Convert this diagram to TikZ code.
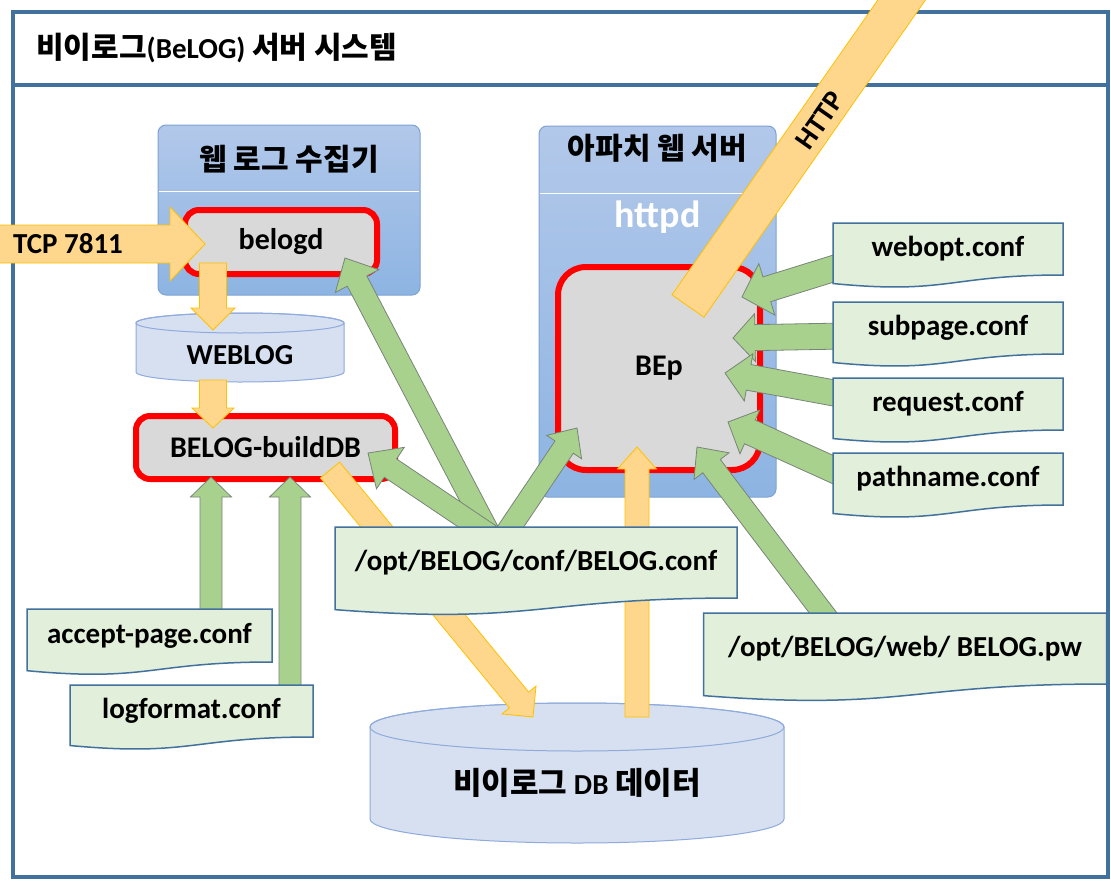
\documentclass[tikz,border=0pt]{standalone}
\usepackage{fontspec}
\setmainfont{Carlito}
\newfontfamily\kr{Noto Sans CJK KR}
\usetikzlibrary{calc,positioning}
\definecolor{frameblue}{RGB}{65,113,156}
\definecolor{paneltop}{RGB}{178,200,234}
\definecolor{panelbot}{RGB}{141,180,226}
\definecolor{paneledge}{RGB}{125,163,212}
\definecolor{boxgray}{RGB}{217,217,217}
\definecolor{drumfill}{RGB}{214,224,240}
\definecolor{drumedge}{RGB}{143,170,220}
\definecolor{conffill}{RGB}{226,239,218}
\definecolor{greenfill}{RGB}{169,209,142}
\definecolor{greenedge}{RGB}{120,132,120}
\definecolor{orangefill}{RGB}{255,215,140}
\definecolor{orangeedge}{RGB}{255,192,0}

\pgfdeclarelayer{bg}
\pgfdeclarelayer{flow}
\pgfdeclarelayer{docs}
\pgfsetlayers{bg,flow,docs,main}

\newcommand\krbig{\kr\fontsize{30}{32}\selectfont}

\tikzset{
  outerframe/.style={draw=frameblue, line width=4pt},
  panel/.style={rounded corners=8pt, draw=paneledge, line width=1pt, top color=paneltop, bottom color=panelbot, outer sep=0pt},
  proc/.style={draw=red, line width=6pt, fill=boxgray, rounded corners=14pt, outer sep=0pt, font=\bfseries\fontsize{30}{32}\selectfont},
  plaintext/.style={font=\bfseries\fontsize{29}{31}\selectfont, outer sep=0pt},
  conf/.style={minimum height=52pt, outer sep=0pt, font=\bfseries\fontsize{29}{31}\selectfont},
  confline/.style={draw=frameblue, line width=1.5pt, fill=conffill},
  drum/.style={draw=drumedge, line width=1pt, fill=drumfill},
  greenflow/.style={fill=greenfill, draw=greenedge, line width=0.8pt},
  orangeflow/.style={fill=orangefill, draw=orangeedge, line width=0.8pt}
}

% block arrow: style, from, to, half body, half head, head length
\newcommand\fatarrow[6]{%
  \coordinate (fa-base) at ($(#3)!#6!(#2)$);
  \path[#1] ($(#2)!#4!90:(#3)$) -- ($(fa-base)!#4!90:(#3)$) -- ($(fa-base)!#5!90:(#3)$) -- (#3)
    -- ($(fa-base)!#5!-90:(#3)$) -- ($(fa-base)!#4!-90:(#3)$) -- ($(#2)!#4!-90:(#3)$) -- cycle;
}
\newcommand\fatbar[4]{%
  \path[#1] ($(#2)!#4!90:(#3)$) -- ($(#3)!#4!-90:(#2)$) -- ($(#3)!#4!90:(#2)$) -- ($(#2)!#4!-90:(#3)$) -- cycle;
}
% cx, top centre y, bottom centre y, rx, ry
\newcommand\drumshape[5]{%
  \path[drum] (#1-#4,#2) -- (#1-#4,#3) arc[start angle=180, end angle=0, x radius=#4, y radius=#5]
    -- (#1+#4,#2) arc[start angle=0, end angle=-180, x radius=#4, y radius=#5] -- cycle;
  \draw[drum, fill=none] (#1,#2) ellipse[x radius=#4, y radius=#5];
}

\begin{document}
\begin{tikzpicture}[x=1pt,y=-1pt]
\useasboundingbox (0,0) rectangle (1111,889);

\begin{pgfonlayer}{bg}
  \fill[white] (0,0) rectangle (1111,889);
  \draw[outerframe] (13,12) rectangle (1108,877);
  \draw[outerframe] (13,85) -- (1108,85);
  \node[panel, minimum width=262pt, minimum height=170pt] (collector) at (289,210) {};
  \node[panel, minimum width=237pt, minimum height=371pt] (apache) at (657.5,311.5) {};
  \draw[white, line width=1pt] ($(collector.north west)+(1,66)$) -- ($(collector.north east)+(-1,66)$);
  \draw[white, line width=1pt] ($(apache.north west)+(1,67)$) -- ($(apache.north east)+(-1,67)$);
  \node[proc, minimum width=192pt, minimum height=64pt] (belogd) at (281,242) {belogd};
  \node[proc, minimum width=259pt, minimum height=63pt] (builddb) at (265.5,447.5) {BELOG-buildDB};
  \node[proc, minimum width=202pt, minimum height=203pt, rounded corners=28pt] (bep) at (659,368.5) {BEp};
  \drumshape{240}{323}{372}{104}{10}
  \drumshape{577}{727}{819}{207}{24}
\end{pgfonlayer}

\node[plaintext, anchor=west] (title) at (33,48) {{\krbig 비이로그}(BeLOG) {\krbig 서버 시스템}};
\node[plaintext] (collectorhead) at ($(collector.north)+(0,34)$) {\krbig 웹 로그 수집기};
\node[plaintext] (apachehead) at ($(apache.north)+(0,22)$) {\krbig 아파치 웹 서버};
\node[plaintext, text=white, font=\bfseries\fontsize{38}{40}\selectfont] (httpd) at ($(apache.north)+(0,91)$) {httpd};
\node[plaintext] (weblog) at (240,355) {WEBLOG};
\node[plaintext] (db) at (577,783) {{\kr\fontsize{31}{33}\selectfont 비이로그} DB {\kr\fontsize{31}{33}\selectfont 데이터}};
\node[plaintext] (tcp) at (68,244) {TCP 7811};
\node[plaintext, rotate=55] (http) at (820,120) {HTTP};

\node[conf, minimum width=230pt] (webopt) at (948,249) {webopt.conf};
\node[conf, minimum width=230pt] (subpage) at (948,328) {subpage.conf};
\node[conf, minimum width=230pt] (request) at (948,404) {request.conf};
\node[conf, minimum width=230pt] (pathname) at (948,479) {pathname.conf};
\node[conf, minimum width=245pt, minimum height=53pt] (acceptpage) at (149.5,635.5) {accept-page.conf};
\node[conf, minimum width=243pt] (logformat) at (191.5,711) {logformat.conf};
\node[conf, minimum width=402pt, minimum height=71pt] (belogconf) at (536,562.5) {/opt/BELOG/conf/BELOG.conf};
\node[conf, minimum width=403pt, minimum height=71pt] (belogpw) at (905,648.5) {/opt/BELOG/web/ BELOG.pw};

\begin{pgfonlayer}{docs}
  \foreach \n in {webopt,subpage,request,pathname,acceptpage,logformat,belogconf,belogpw}
    \path[confline] (\n.north west) -- (\n.north east) -- (\n.south east)
      .. controls (\n.south) and ($(\n.south)!-0.38!(\n.north)$) .. ($(\n.south west)!-0.164!(\n.north west)$) -- cycle;
\end{pgfonlayer}

\coordinate (tcpin) at (-5,244);
\coordinate (tcptip) at ($(belogd.west)+(20,2)$);
\coordinate (logout) at ($(belogd.south west)+(28,-11)$);
\coordinate (login) at ($(weblog)+(-27,-25)$);
\coordinate (buildin) at ($(weblog)+(-27,25)$);
\coordinate (buildtip) at ($(builddb.north west)+(77,12)$);
\coordinate (dbout) at ($(builddb.south east)+(-65,-9)$);
\coordinate (dbin) at ($(db)+(-44,-66)$);
\coordinate (dbup) at ($(db)+(60,-66)$);
\coordinate (bepin) at ($(bep.south)+(-22,-23)$);
\coordinate (httpin) at ($(bep)+(29,-62.5)$);
\coordinate (web) at (917,-22);

\begin{pgfonlayer}{flow}
  \fatarrow{orangeflow}{tcpin}{tcptip}{19pt}{37pt}{35pt}
  \fatarrow{orangeflow}{logout}{login}{13.5pt}{22pt}{22pt}
  \fatarrow{orangeflow}{buildin}{buildtip}{13.5pt}{21pt}{20pt}
  \fatarrow{orangeflow}{dbout}{dbin}{12.5pt}{22pt}{22pt}
  \fatarrow{orangeflow}{dbup}{bepin}{12pt}{19.5pt}{22pt}
  \fatbar{orangeflow}{httpin}{web}{19.5pt}

  \coordinate (c1) at ($(belogconf.north)+(-46,8)$);
  \coordinate (c2) at ($(belogconf.north)+(-31,8)$);
  \fatarrow{greenflow}{c1}{$(belogd.south east)+(-32,-16)$}{11pt}{24.5pt}{26pt}
  \fatarrow{greenflow}{c1}{$(builddb.east)+(-27,5.5)$}{11pt}{25pt}{27pt}
  \fatarrow{greenflow}{c2}{$(bep.south west)+(19,-42)$}{11pt}{21pt}{23pt}
  \fatarrow{greenflow}{$(belogpw.north)+(-75,9)$}{$(bep.south)+(38,-23)$}{11pt}{22pt}{24pt}
  \fatarrow{greenflow}{$(webopt.west)+(12,16)$}{$(bep.north east)+(-18,30)$}{13pt}{27pt}{26pt}
  \fatarrow{greenflow}{$(subpage.west)+(12,8)$}{$(bep.east)+(-27,-30.5)$}{13pt}{24pt}{22pt}
  \fatarrow{greenflow}{$(request.west)+(12,-9)$}{$(bep.east)+(-35,4.5)$}{13pt}{24pt}{24pt}
  \fatarrow{greenflow}{$(pathname.west)+(12,-4)$}{$(bep.east)+(-32,53.5)$}{13pt}{24pt}{24pt}
  \fatarrow{greenflow}{$(acceptpage.north)+(61.5,6)$}{$(builddb.south west)+(75,-2)$}{11pt}{20.5pt}{20pt}
  \fatarrow{greenflow}{$(logformat.north)+(98.5,6)$}{$(builddb.south)+(24.5,-2)$}{11pt}{20.5pt}{20pt}
\end{pgfonlayer}
\end{tikzpicture}
\end{document}
